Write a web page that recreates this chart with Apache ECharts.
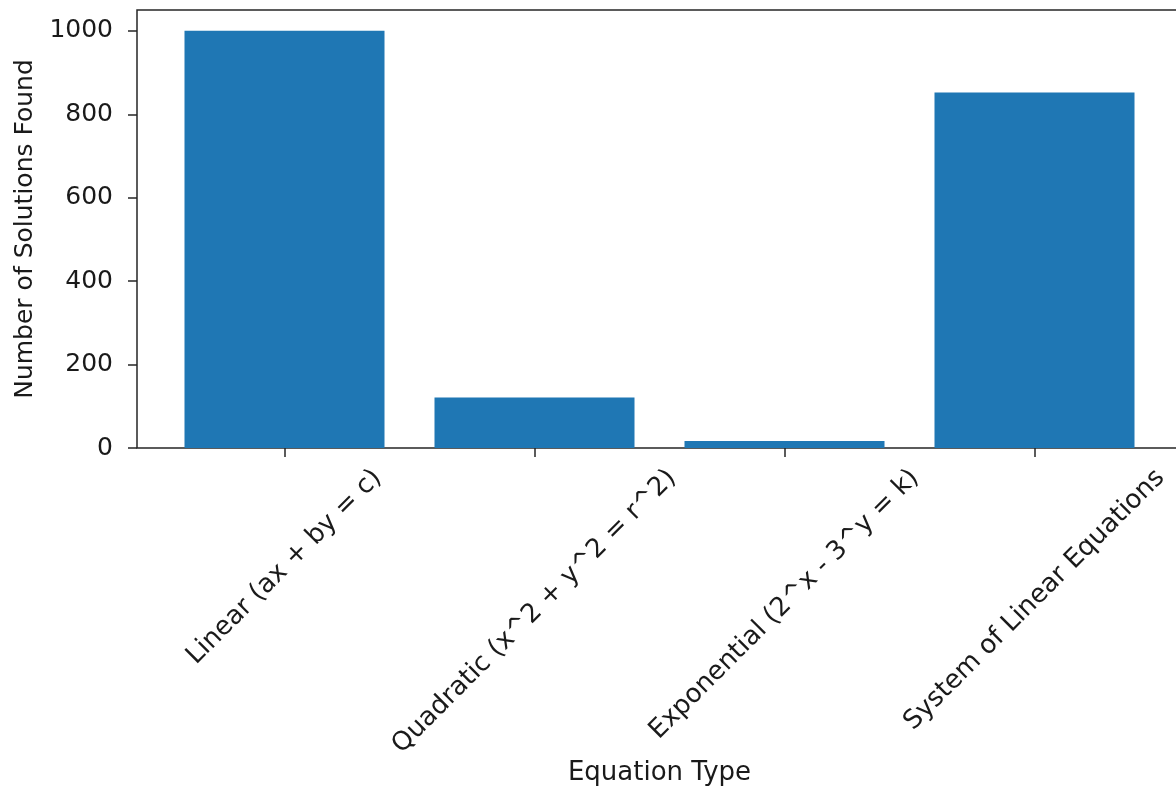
<!DOCTYPE html>
<html><head><meta charset="utf-8">
<script src="https://cdn.jsdelivr.net/npm/echarts@6/dist/echarts.min.js"></script>
<style>html,body{margin:0;padding:0;background:#fff}#c{width:1176px;height:787px}</style>
</head><body><div id="c"></div>
<script>
// ---- data ----
const categories = ['Linear (ax + by = c)', 'Quadratic (x^2 + y^2 = r^2)', 'Exponential (2^x - 3^y = k)', 'System of Linear Equations'];
const solutions = [1000, 121, 17, 852];
const yTicks = [0, 200, 400, 600, 800, 1000];
const yMax = 1050;
const xTitle = 'Equation Type';
const yTitle = 'Number of Solutions Found';

// ---- style ----
const FONT = 'DejaVu Sans';
const FS = 25;
const FS_X = 26;
const TEXT = '#1a1a1a';
const LINE = '#262626';
const LABEL_MARGIN = 26;

// matplotlib centres each rotated tick label's bounding box on its tick
const ctx = document.createElement('canvas').getContext('2d');
ctx.font = FS_X + 'px "' + FONT + '"';
const labelShift = categories.map(c => ctx.measureText(c).width * Math.SQRT1_2 / 2);

const chart = echarts.init(document.getElementById('c'), null, { renderer: 'canvas' });
chart.setOption({
  animation: false,
  backgroundColor: '#fff',
  grid: [
    { left: 137, top: 10, width: 1043.5, height: 438, outerBoundsMode: 'none', containLabel: false, show: true, borderColor: LINE, borderWidth: 1.5, backgroundColor: 'transparent' },
    { left: 159.5, top: 10, width: 1000, height: 438, outerBoundsMode: 'none', containLabel: false }
  ],
  xAxis: [
    { gridIndex: 0, type: 'value', min: 0, max: 1, show: false },
    {
      gridIndex: 1, type: 'category', data: categories,
      axisLine: { show: false },
      axisTick: { show: true, alignWithLabel: true, length: 9, lineStyle: { color: LINE, width: 1.5 } },
      axisLabel: { show: false },
      name: xTitle, nameLocation: 'middle', nameGap: 312,
      nameTextStyle: { fontSize: FS_X, fontFamily: FONT, color: TEXT }
    }
  ],
  yAxis: [
    {
      gridIndex: 0, type: 'value', min: 0, max: yMax, interval: 200,
      axisLine: { show: false },
      axisTick: { show: true, length: 9, customValues: yTicks, lineStyle: { color: LINE, width: 1.5 } },
      axisLabel: { customValues: yTicks, margin: 24, fontSize: FS, fontFamily: FONT, color: TEXT, formatter: v => String(v) },
      splitLine: { show: false },
      name: yTitle, nameLocation: 'middle', nameGap: 98,
      nameTextStyle: { fontSize: FS, fontFamily: FONT, color: TEXT }
    },
    { gridIndex: 1, type: 'value', min: 0, max: yMax, show: false }
  ],
  series: [
    {
      type: 'bar', xAxisIndex: 1, yAxisIndex: 1, data: solutions,
      barWidth: '80%', itemStyle: { color: '#1f77b4' }
    },
    {
      // rotated category tick labels, placed through the category axis scale
      type: 'custom', xAxisIndex: 1, yAxisIndex: 1, silent: true, clip: false, z: 5,
      data: categories.map((c, i) => [i, 0]),
      renderItem: (params, api) => {
        const p = api.coord([api.value(0), 0]);
        const i = params.dataIndex;
        return {
          type: 'text',
          x: p[0] + labelShift[i],
          y: p[1] + LABEL_MARGIN,
          rotation: Math.PI / 4,
          style: {
            text: categories[i], fontSize: FS_X, fontFamily: FONT, fill: TEXT,
            align: 'right', verticalAlign: 'middle'
          }
        };
      }
    }
  ]
});
</script>
</body></html>
